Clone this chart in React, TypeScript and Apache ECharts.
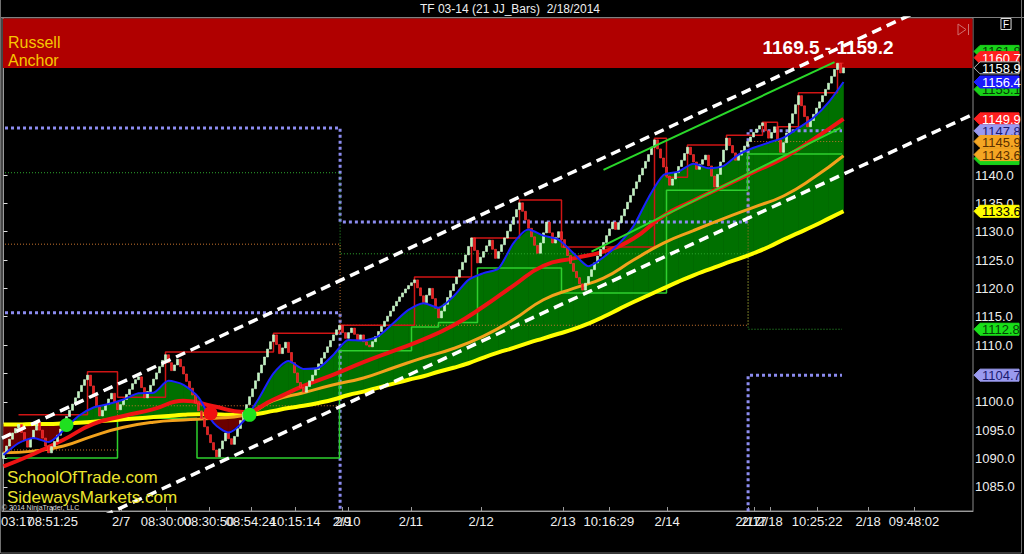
import React, { useEffect, useRef } from "react";
import * as echarts from "echarts";

// ---------- DATA ----------
const firstOpen = 1090.0;
const closes: number[] = [
  1091.0, 1092.2, 1093.4, 1094.5, 1095.3, 1096.0, 1094.6, 1093.2, 1092.0, 1093.5,
  1095.0, 1096.4, 1095.0, 1093.6, 1092.2, 1091.0, 1092.1, 1093.0, 1094.1, 1095.2,
  1096.3, 1097.4, 1098.5, 1099.6, 1100.7, 1101.8, 1102.9, 1103.9, 1104.7, 1102.8,
  1100.9, 1099.1, 1097.5, 1098.5, 1099.5, 1100.5, 1101.5, 1100.0, 1098.6, 1099.5,
  1100.4, 1101.3, 1102.2, 1103.2, 1103.9, 1104.4, 1102.5, 1100.7, 1101.8, 1102.9,
  1104.0, 1105.1, 1106.2, 1107.3, 1108.3, 1106.9, 1105.5, 1106.5, 1107.5, 1106.2,
  1104.9, 1103.6, 1102.4, 1101.2, 1099.8, 1098.4, 1097.0, 1095.6, 1094.2, 1092.8,
  1091.5, 1090.3, 1091.7, 1093.1, 1094.5, 1093.5, 1092.5, 1093.9, 1095.3, 1096.7,
  1098.1, 1099.5, 1100.9, 1102.3, 1103.7, 1105.1, 1106.5, 1107.9, 1109.3, 1110.6,
  1111.8, 1110.1, 1108.5, 1109.5, 1110.5, 1108.7, 1106.9, 1105.1, 1103.4, 1102.5,
  1101.7, 1102.7, 1103.7, 1104.7, 1105.7, 1106.7, 1107.7, 1108.7, 1109.7, 1110.8,
  1111.8, 1112.7, 1113.5, 1112.2, 1111.2, 1112.2, 1113.0, 1111.9, 1110.8, 1111.8,
  1110.6, 1110.0, 1109.7, 1110.6, 1111.5, 1112.4, 1113.3, 1114.2, 1115.1, 1116.0,
  1116.9, 1117.7, 1118.5, 1119.2, 1119.9, 1120.5, 1121.0, 1121.5, 1120.1, 1118.7,
  1117.5, 1118.8, 1120.0, 1118.2, 1116.5, 1114.8, 1116.0, 1117.2, 1118.4, 1119.6,
  1120.8, 1122.0, 1123.3, 1124.6, 1125.9, 1127.4, 1128.9, 1126.7, 1124.5, 1125.5,
  1126.5, 1127.5, 1128.5, 1126.9, 1125.3, 1126.5, 1127.7, 1128.9, 1130.1, 1131.3,
  1132.6, 1133.9, 1135.1, 1133.6, 1132.1, 1130.6, 1129.1, 1127.6, 1126.2, 1128.0,
  1129.8, 1131.7, 1129.8, 1128.0, 1129.0, 1130.0, 1128.6, 1127.2, 1125.8, 1124.4,
  1123.0, 1121.9, 1120.8, 1119.7, 1120.9, 1122.1, 1123.3, 1124.5, 1125.7, 1126.9,
  1128.1, 1129.3, 1130.5, 1131.7, 1130.4, 1131.6, 1132.8, 1134.0, 1135.2, 1136.4,
  1137.6, 1138.8, 1140.0, 1141.2, 1142.4, 1143.6, 1144.9, 1146.2, 1144.6, 1143.0,
  1141.4, 1139.8, 1138.2, 1139.3, 1140.4, 1141.5, 1142.6, 1143.8, 1144.9, 1143.6,
  1142.3, 1141.0, 1141.9, 1142.7, 1143.5, 1141.6, 1139.8, 1137.9, 1140.1, 1142.3,
  1144.4, 1146.5, 1145.2, 1143.9, 1142.6, 1143.5, 1144.3, 1145.1, 1145.9, 1146.7,
  1147.5, 1148.1, 1148.7, 1149.2, 1147.8, 1146.5, 1147.5, 1148.5, 1146.2, 1144.0,
  1145.7, 1147.4, 1149.1, 1150.8, 1152.4, 1154.0, 1152.2, 1150.3, 1148.5, 1149.6,
  1150.7, 1151.8, 1152.9, 1154.0, 1155.1, 1156.2, 1157.4, 1158.6, 1159.7, 1158.0,
  1158.9,
];

// moving averages (blue & yellow every 5 bars, red & orange every 10 bars)
const blueMA: number[] = [
  1090.6, 1092.7, 1093.6, 1092.9, 1095.0, 1097.5, 1099.0, 1099.6, 1100.4, 1101.5,
  1101.6, 1103.7, 1103.0, 1100.8, 1096.3, 1094.6, 1096.6, 1100.5, 1105.0, 1107.2,
  1105.8, 1106.0, 1108.3, 1110.9, 1110.8, 1111.6, 1113.9, 1116.2, 1117.4, 1116.6,
  1118.6, 1121.5, 1122.7, 1123.5, 1128.0, 1130.4, 1129.3, 1128.6, 1126.2, 1123.9,
  1125.5, 1127.8, 1131.0, 1136.0, 1140.0, 1140.6, 1142.0, 1141.2, 1141.6, 1143.6,
  1144.8, 1145.7, 1146.6, 1148.3, 1150.1, 1152.8, 1156.4,
];
const yellowMA: number[] = [
  1096.0, 1096.0, 1096.1, 1096.1, 1096.2, 1096.3, 1096.5, 1096.7, 1096.9, 1097.1,
  1097.3, 1097.5, 1097.7, 1097.8, 1097.8, 1097.7, 1097.7, 1097.9, 1098.4, 1098.9,
  1099.3, 1099.8, 1100.4, 1101.2, 1101.8, 1102.5, 1103.2, 1103.9, 1104.5, 1105.3,
  1106.0, 1106.8, 1107.8, 1108.7, 1109.5, 1110.4, 1111.2, 1112.0, 1112.8, 1113.8,
  1115.0, 1116.3, 1117.6, 1118.8, 1120.0, 1121.2, 1122.3, 1123.3, 1124.3, 1125.2,
  1126.2, 1127.3, 1128.6, 1129.8, 1131.0, 1132.3, 1133.6,
];
const redMA: number[] = [
  1088.6, 1090.8, 1093.3, 1096.1, 1097.5, 1098.7, 1100.2, 1099.2, 1098.2, 1100.4,
  1102.8, 1104.8, 1107.0, 1109.0, 1111.0, 1113.5, 1116.8, 1120.5, 1124.0, 1125.3,
  1126.5, 1128.8, 1132.8, 1135.5, 1138.0, 1140.5, 1143.0, 1146.3, 1149.9,
];
const orangeMA: number[] = [
  1091.0, 1091.3, 1092.2, 1094.0, 1095.5, 1096.4, 1096.8, 1097.1, 1097.6, 1100.2,
  1101.6, 1103.0, 1104.2, 1106.0, 1107.8, 1109.4, 1111.6, 1114.5, 1118.0, 1120.0,
  1121.8, 1125.0, 1128.0, 1130.2, 1132.3, 1134.3, 1136.3, 1139.5, 1143.4,
];

// step / level lines as [bar index, price]
const redStep: number[][] = [
  [5, 1097.7], [28, 1097.7], [28, 1105.3], [38, 1105.3], [38, 1100.8], [54, 1100.8], [54, 1108.8],
  [90, 1108.8], [90, 1112.1], [112, 1112.1], [112, 1113.5], [137, 1113.5], [137, 1122.0], [156, 1122.0],
  [156, 1128.9], [172, 1128.9], [172, 1135.6], [186, 1135.6], [186, 1127.3], [217, 1127.3], [217, 1146.5],
  [221, 1146.5], [221, 1139.6], [228, 1139.6], [228, 1145.3], [241, 1145.3], [241, 1147.0], [253, 1147.0],
  [253, 1149.3], [258, 1149.3], [258, 1148.5], [265, 1148.5], [265, 1154.5], [278, 1154.5], [278, 1159.7], [280, 1159.7],
];
const greenStep: number[][] = [
  [1, 1090.1], [38, 1090.1], [38, 1097.1], [64.5, 1097.1], [64.5, 1090.1], [112, 1090.1], [112, 1109.0],
  [136, 1109.0], [136, 1113.2], [145, 1113.2], [145, 1114.0], [158, 1114.0], [158, 1123.6], [186, 1123.6],
  [186, 1119.2], [221, 1119.2], [221, 1137.3], [248, 1137.3], [248, 1143.7], [279.5, 1143.7],
];
const lavenderUpper: number[][] = [[0.5, 1148.3], [112.2, 1148.3], [112.2, 1131.7], [248.2, 1131.7], [248.2, 1147.8], [279.5, 1147.8]];
const lavenderLowerA: number[][] = [[0.5, 1115.7], [112.2, 1115.7], [112.2, 1080.7]];
const lavenderLowerB: number[][] = [[248.2, 1080.7], [248.2, 1104.7], [279.5, 1104.7]];
const greenDotted: number[][] = [[0.5, 1140.4], [112.2, 1140.4], [112.2, 1126.1], [248.2, 1126.1], [248.2, 1112.8], [279.5, 1112.8]];
const orangeDotted: number[][] = [[0.5, 1127.8], [112.2, 1127.8], [112.2, 1113.5], [248.2, 1113.5], [248.2, 1145.9], [279.5, 1145.9]];
const orangeDotted2: number[][] = [[0.5, 1091.5], [38, 1091.5], [38, 1099.3], [112.2, 1099.3]];

// trend channel (white dashed) and green trend lines
const channelUpper: number[][] = [[-0.5, 1093.6], [323.17, 1173.4]];
const channelLower: number[][] = [[-0.5, 1071.6], [323.17, 1150.7]];
const greenTrend1: number[][] = [[200, 1140.9], [277, 1159.9]];
const greenTrend2: number[][] = [[196, 1126.5], [279, 1148.3]];

// crossing dots
const dotIdx = [21, 69, 82];
const dotVal = [1095.9, 1098.0, 1097.7];
const dotColor = ["#1fe01f", "#f01010", "#1fe01f"];

// right price tags (drawn in this order; hidden tag text left blank where the reference shows none)
const tagValues = [1161.8, 1160.7, 1158.9, 1155.1, 1156.4, 1149.9, 1147.8, 1145.9, 1142.9, 1143.6, 1133.6, 1112.8, 1104.7];
const tagShowText = [true, true, true, true, true, true, true, true, false, true, true, true, true];
const tagFill = ["#19d219", "#ff1f1f", "#000000", "#19d219", "#1a1aff", "#ff1f1f", "#9a9af0", "#f5a623", "#19d219", "#f5a623", "#ffff00", "#19e019", "#9a9af0"];
const tagText = ["#063806", "#ffffff", "#ffffff", "#063806", "#ffffff", "#ffffff", "#1a1a70", "#5a3000", "#063806", "#5a3000", "#000000", "#064006", "#1a1a70"];

// axes
const yTicks = [1085, 1090, 1095, 1100, 1105, 1110, 1115, 1120, 1125, 1130, 1135, 1140];
const yLabels = [1085, 1090, 1095, 1100, 1110, 1115, 1120, 1125, 1130, 1135, 1140];
const xLabelPos = [2.8, 16.4, 39.2, 54.2, 68.5, 82.5, 97.2, 112.8, 114.8, 135.8, 159.2, 186.5, 201.8, 221.2, 248.2, 250.2, 255.5, 271.2, 288.2, 303.5];
const xLabelText = ["03:17", "08:51:25", "2/7", "08:30:00", "08:30:50", "08:54:24", "10:15:14", "2/9", "2/10", "2/11", "2/12", "2/13", "10:16:29", "2/14", "2/17", "2/17", "2/18", "10:25:22", "2/18", "09:48:02"];

const X_MIN = -0.5;
const X_MAX = 323.17;
const Y_MIN = 1080.74;
const Y_MAX = 1167.69;

const NARROW = "'Liberation Sans Narrow', 'Arial Narrow', 'Liberation Sans', Arial, sans-serif";
const SANS = "'Liberation Sans', Arial, sans-serif";

export default function App() {
  const ref = useRef<HTMLDivElement>(null);

  useEffect(() => {
    if (!ref.current) return;
    const chart = echarts.init(ref.current, null, { renderer: "svg" });

    const idx5 = blueMA.map((_, k) => k * 5);
    const idx10 = redMA.map((_, k) => k * 10);

    const candles = closes.map((c, i) => {
      const o = i === 0 ? firstOpen : closes[i - 1];
      return [i, o, c, Math.min(o, c), Math.max(o, c)];
    });

    const labelMap = new Map<number, string>();
    xLabelPos.forEach((p, k) => labelMap.set(p, xLabelText[k]));
    // the first (left-most) label is drawn separately, so the axis' min-label logic does not hide its neighbour
    const axisLabelPos = xLabelPos.slice(1);

    const UP_FILL = "#007000";
    const DN_FILL = "#6a0000";

    const lineSeries = (data: number[][], color: string, width: number, type: any, z: number, smooth: any = false) => ({
      type: "line",
      data,
      symbol: "none",
      showSymbol: false,
      smooth,
      z,
      silent: true,
      lineStyle: { color, width, type },
    });

    const option: any = {
      animation: false,
      backgroundColor: "#000000",
      grid: { left: 2, right: 51, top: 18, bottom: 43, show: true, borderColor: "#8a8a8a", borderWidth: 1 },
      xAxis: {
        type: "value",
        min: X_MIN,
        max: X_MAX,
        axisLine: { show: true, lineStyle: { color: "#9a9a9a", width: 1 } },
        axisTick: { show: true, inside: true, length: 4, customValues: xLabelPos, lineStyle: { color: "#9a9a9a" } },
        axisLabel: {
          customValues: axisLabelPos,
          showMinLabel: true,
          showMaxLabel: true,
          hideOverlap: false,
          formatter: (v: number) => labelMap.get(v) ?? "",
          color: "#f0f0f0",
          fontSize: 13,
          fontFamily: NARROW,
          margin: 4,
        },
        splitLine: { show: false },
      },
      yAxis: {
        type: "value",
        position: "right",
        min: Y_MIN,
        max: Y_MAX,
        axisLine: { show: true, lineStyle: { color: "#9a9a9a", width: 1 } },
        axisTick: { show: true, length: 4, customValues: yTicks, lineStyle: { color: "#dddddd" } },
        axisLabel: {
          customValues: yLabels,
          showMinLabel: true,
          showMaxLabel: true,
          formatter: (v: number) => v.toFixed(1),
          color: "#eeeeee",
          fontSize: 13,
          fontFamily: NARROW,
          margin: 2,
        },
        splitLine: { show: false },
      },
      series: [
        {
          type: "custom",
          z: 1,
          silent: true,
          clip: true,
          encode: { x: 0, y: 1 },
          data: idx5.slice(0, -1).map((x, k) => [x, blueMA[k], yellowMA[k]]),
          renderItem: (params: any, api: any) => {
            const k = params.dataIndex;
            const x0 = idx5[k], x1 = idx5[k + 1];
            const b0 = blueMA[k], b1 = blueMA[k + 1];
            const y0 = yellowMA[k], y1 = yellowMA[k + 1];
            const d0 = b0 - y0, d1 = b1 - y1;
            const c = (x: number, v: number) => api.coord([x, v]);
            const col = (d: number) => (d >= 0 ? UP_FILL : DN_FILL);
            const poly = (pts: number[][], color: string) => ({
              type: "polygon",
              shape: { points: pts },
              style: { fill: color, stroke: color, lineWidth: 0.6 },
            });
            const children: any[] = [];
            if (d0 * d1 >= 0) {
              children.push(poly([c(x0, b0), c(x1, b1), c(x1, y1), c(x0, y0)], col(d0 + d1)));
            } else {
              const t = d0 / (d0 - d1);
              const xc = x0 + t * (x1 - x0);
              const vc = y0 + t * (y1 - y0);
              children.push(poly([c(x0, b0), c(xc, vc), c(x0, y0)], col(d0)));
              children.push(poly([c(xc, vc), c(x1, b1), c(x1, y1)], col(d1)));
            }
            return { type: "group", children };
          },
        },
        lineSeries(lavenderUpper, "#8c8cf0", 3, [3, 3], 2),
        lineSeries(lavenderLowerA, "#8c8cf0", 3, [3, 3], 2),
        lineSeries(lavenderLowerB, "#8c8cf0", 3, [3, 3], 2),
        lineSeries(greenDotted, "#2ea82e", 1, [1, 2], 2),
        lineSeries(orangeDotted, "#c8742e", 1, [1, 2], 2),
        lineSeries(orangeDotted2, "#c8742e", 1, [1, 2], 2),
        lineSeries(redStep, "#d01515", 1.5, "solid", 3),
        lineSeries(greenStep, "#2ed02e", 1.5, "solid", 3),
        lineSeries(idx5.map((x, k) => [x, yellowMA[k]]), "#ffff00", 4, "solid", 4, true),
        lineSeries(idx10.map((x, k) => [x, orangeMA[k]]), "#f2a21c", 3, "solid", 4, true),
        lineSeries(idx10.map((x, k) => [x, redMA[k]]), "#ee1414", 4, "solid", 4, true),
        {
          type: "candlestick",
          z: 5,
          silent: true,
          encode: { x: 0, y: [1, 2, 3, 4] },
          data: candles,
          barWidth: 3,
          itemStyle: {
            color: "#bdf5bd",
            borderColor: "#d6fad6",
            color0: "#e61c1c",
            borderColor0: "#ff3a3a",
            borderWidth: 0.6,
          },
        },
        lineSeries(idx5.map((x, k) => [x, blueMA[k]]), "#1a22ff", 2, "solid", 6, 0.25),
        lineSeries(greenTrend1, "#2ad82a", 2, "solid", 6),
        lineSeries(greenTrend2, "#2ad82a", 2, "solid", 6),
        lineSeries(channelUpper, "#ffffff", 3.5, [10, 6], 7),
        lineSeries(channelLower, "#ffffff", 3.5, [10, 6], 7),
        {
          type: "scatter",
          z: 8,
          silent: true,
          symbolSize: 14,
          itemStyle: { opacity: 1 },
          data: dotIdx.map((x, k) => ({ value: [x, dotVal[k]], itemStyle: { color: dotColor[k], opacity: 1 } })),
        },
        {
          type: "custom",
          z: 9,
          silent: true,
          clip: false,
          encode: { x: 0, y: 1 },
          data: tagValues.map((v) => [X_MAX, v]),
          renderItem: (params: any, api: any) => {
            const k = params.dataIndex;
            const p = api.coord([api.value(0), api.value(1)]);
            const x = p[0], y = p[1];
            const children: any[] = [
              {
                type: "polygon",
                shape: { points: [[x + 1, y], [x + 7, y - 6], [x + 46, y - 6], [x + 46, y + 6], [x + 7, y + 6]] },
                style: { fill: tagFill[k], stroke: tagFill[k] === "#000000" ? "#bbbbbb" : tagFill[k], lineWidth: 1 },
              },
            ];
            if (tagShowText[k]) {
              children.push({
                type: "text",
                style: {
                  text: tagValues[k].toFixed(1),
                  x: x + 9,
                  y: y + 0.5,
                  verticalAlign: "middle",
                  align: "left",
                  fill: tagText[k],
                  font: "13px " + NARROW,
                },
              });
            }
            return { type: "group", children };
          },
        },
      ],
      graphic: [
        { type: "rect", z: 1, silent: true, shape: { x: 3, y: 18.5, width: 969.5, height: 49.5 }, style: { fill: "#b00000" } },
        { type: "line", z: 1, silent: true, shape: { x1: 0, y1: 17.5, x2: 1024, y2: 17.5 }, style: { stroke: "#808080", lineWidth: 1 } },
        { type: "polyline", z: 1, silent: true, shape: { points: [[0.5, 0], [0.5, 553], [1021.5, 553], [1021.5, 0]] }, style: { stroke: "#707070", fill: "none", lineWidth: 1 } },
        { type: "text", z: 10, silent: true, x: 510, y: 9, style: { text: "TF 03-14 (21 JJ_Bars)  2/18/2014", fill: "#f0f0f0", font: "12px " + NARROW, align: "center", verticalAlign: "middle" } },
        { type: "text", z: 10, silent: true, x: 8, y: 42, style: { text: "Russell", fill: "#f7c600", font: "16px " + NARROW, verticalAlign: "middle" } },
        { type: "text", z: 10, silent: true, x: 8, y: 60, style: { text: "Anchor", fill: "#f7c600", font: "16px " + NARROW, verticalAlign: "middle" } },
        { type: "text", z: 1, silent: true, x: 828, y: 47, style: { text: "1169.5 - 1159.2", fill: "#ffffff", font: "bold 19px " + SANS, align: "center", verticalAlign: "middle" } },
        { type: "text", z: 10, silent: true, x: 7, y: 477, style: { text: "SchoolOfTrade.com", fill: "#ece52e", font: "17px " + SANS, verticalAlign: "middle" } },
        { type: "text", z: 10, silent: true, x: 7, y: 497, style: { text: "SidewaysMarkets.com", fill: "#ece52e", font: "17px " + SANS, verticalAlign: "middle" } },
        { type: "text", z: 10, silent: true, x: 2, y: 507, style: { text: "© 2014 NinjaTrader, LLC", fill: "#dddddd", font: "7px " + SANS, verticalAlign: "middle" } },
        { type: "text", z: 10, silent: true, x: 1006, y: 24, style: { text: "F", fill: "#ffffff", font: "10px " + SANS, align: "center", verticalAlign: "middle", borderColor: "#dddddd", borderWidth: 1, padding: [1, 2, 0, 2] } },
        { type: "polygon", z: 10, silent: true, shape: { points: [[958, 24], [958, 35], [966, 29.5]] }, style: { fill: "none", stroke: "#d07070", lineWidth: 1 } },
        { type: "line", z: 10, silent: true, shape: { x1: 968.5, y1: 24, x2: 968.5, y2: 35 }, style: { stroke: "#d07070", lineWidth: 1 } },
      ],
    };

    chart.setOption(option);

    // left-most time label, placed through the x axis scale
    const px = chart.convertToPixel({ xAxisIndex: 0 }, xLabelPos[0]) as number;
    const pyAxis = chart.convertToPixel({ yAxisIndex: 0 }, Y_MIN) as number;
    chart.setOption({
      graphic: [
        ...option.graphic,
        {
          type: "text",
          z: 10,
          silent: true,
          x: Math.max(1, px - 11),
          y: pyAxis + 10,
          style: { text: xLabelText[0], fill: "#f0f0f0", font: "13px " + NARROW, verticalAlign: "middle", align: "left" },
        },
      ],
    });

    return () => chart.dispose();
  }, []);

  return <div ref={ref} style={{ position: "fixed", left: 0, top: 0, width: 1024, height: 554 }} />;
}
